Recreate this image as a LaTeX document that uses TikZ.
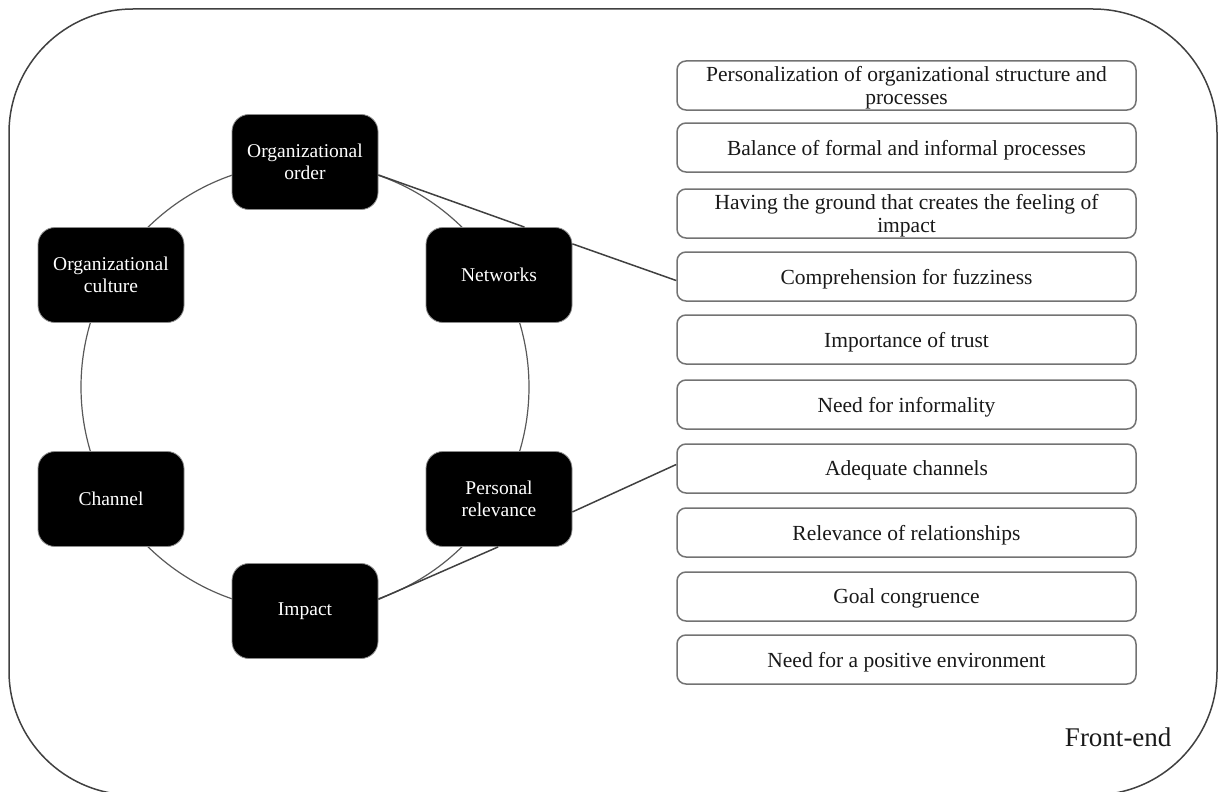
\documentclass[tikz,border=0pt]{standalone}
\usepackage{fontspec}
\setmainfont{Liberation Serif}
\begin{document}
\begin{tikzpicture}[x=1pt,y=-1pt,
  frame/.style={draw=black!75,line width=1.5pt,rounded corners=124pt},
  ring/.style={draw=black!65,line width=1.2pt},
  link/.style={draw=black!75,line width=1.5pt},
  dimbox/.style={fill=black,draw=black!45,line width=0.8pt,rounded corners=17pt,
    minimum width=146pt,minimum height=95pt,inner sep=2pt,align=center,
    text=white,font=\fontsize{19.5}{22}\selectfont},
  itembox/.style={fill=white,draw=black!55,line width=1.5pt,rounded corners=9pt,
    minimum width=459pt,minimum height=49pt,inner sep=1pt,align=center,
    text depth=0pt,text=black!90,font=\fontsize{21.5}{23}\selectfont}]
\useasboundingbox (0,0) rectangle (1219,792);
% outer frame
\draw[frame] (9,9) rectangle (1217,795);
% ring through the six dimensions
\draw[ring] (305,387) circle[radius=224pt];
% six dimensions
\node[dimbox] (oo) at (305,162) {Organizational\\order};
\node[dimbox] (nw) at (499,275) {Networks};
\node[dimbox] (pr) at (499,499) {Personal\\relevance};
\node[dimbox] (im) at (305,611) {Impact};
\node[dimbox] (ch) at (111,499) {Channel};
\node[dimbox] (oc) at (111,275) {Organizational\\culture};
% list of factors
\node[itembox] (f1) at (906.5,85.5) {Personalization of organizational structure and\\processes};
\node[itembox] (f2) at (906.5,147.5) {Balance of formal and informal processes};
\node[itembox] (f3) at (906.5,213.5) {Having the ground that creates the feeling of\\impact};
\node[itembox] (f4) at (906.5,276.5) {Comprehension for fuzziness};
\node[itembox] (f5) at (906.5,339.5) {Importance of trust};
\node[itembox] (f6) at (906.5,404.5) {Need for informality};
\node[itembox] (f7) at (906.5,468.5) {Adequate channels};
\node[itembox] (f8) at (906.5,532.5) {Relevance of relationships};
\node[itembox] (f9) at (906.5,596.5) {Goal congruence};
\node[itembox] (f10) at (906.5,659.5) {Need for a positive environment};
% connectors
\draw[link] (oo.-10) -- (nw.62);
\draw[link] (nw.23) -- (f4.181);
\draw[link] (pr.-10) -- (f7.179);
\draw[link] (im.9) -- (pr.-91);
% label
\node[anchor=base east,font=\fontsize{27}{30}\selectfont,text=black!90] (fe) at (1175,746) {Front-end};
\end{tikzpicture}
\end{document}
